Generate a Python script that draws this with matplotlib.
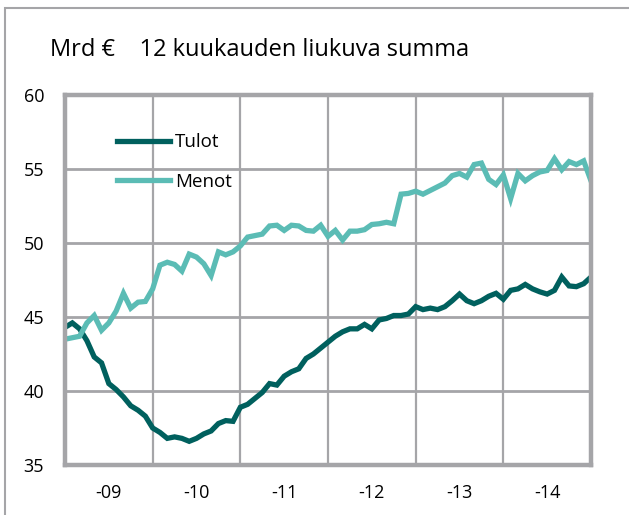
import numpy as np
import matplotlib
matplotlib.use("Agg")
import matplotlib.pyplot as plt
from matplotlib.patches import Rectangle

plt.rcParams['font.family'] = ['Open Sans', 'DejaVu Sans']

# kuukausittaiset arvot, joulukuu 2008 - joulukuu 2014 (mrd €)
tulot = [44.3, 44.6, 44.2, 43.4, 42.3, 41.9, 40.5, 40.1, 39.6, 39.0, 38.7, 38.3,
         37.5, 37.2, 36.8, 36.9, 36.8, 36.6, 36.8, 37.1, 37.3, 37.8, 38.0, 37.95,
         38.9, 39.1, 39.5, 39.9, 40.5, 40.4, 41.0, 41.3, 41.5, 42.2, 42.5, 42.9,
         43.3, 43.7, 44.0, 44.2, 44.2, 44.5, 44.2, 44.8, 44.9, 45.1, 45.1, 45.2,
         45.7, 45.5, 45.6, 45.5, 45.7, 46.1, 46.55, 46.1, 45.9, 46.1, 46.4, 46.6,
         46.2, 46.8, 46.9, 47.2, 46.9, 46.7, 46.55, 46.8, 47.7, 47.1, 47.05, 47.25,
         47.7]
menot = [43.5, 43.6, 43.7, 44.6, 45.1, 44.1, 44.6, 45.4, 46.6, 45.6, 46.0, 46.05,
         46.9, 48.5, 48.7, 48.55, 48.1, 49.25, 49.05, 48.6, 47.8, 49.4, 49.2, 49.4,
         49.8, 50.4, 50.5, 50.6, 51.15, 51.2, 50.85, 51.2, 51.15, 50.85, 50.8, 51.2,
         50.45, 50.85, 50.2, 50.8, 50.8, 50.9, 51.25, 51.3, 51.4, 51.3, 53.3, 53.35,
         53.5, 53.3, 53.55, 53.8, 54.05, 54.55, 54.7, 54.45, 55.3, 55.4, 54.3, 53.95,
         54.6, 53.0, 54.7, 54.2, 54.55, 54.8, 54.9, 55.7, 54.95, 55.5, 55.3, 55.55,
         54.2]
vuodet = ['-09', '-10', '-11', '-12', '-13', '-14']
yticks = [35, 40, 45, 50, 55, 60]

harmaa = '#a5a5a8'
tumma = '#00605e'
vaalea = '#5bbcb5'

x = np.arange(len(tulot)) / 12.0

fig = plt.figure(figsize=(6.29, 5.15), dpi=100)
ax = fig.add_axes([65/629, 50/515, 526/629, 370/515])

ax.plot(x, tulot, color=tumma, lw=3.8, label='Tulot', solid_joinstyle='miter', zorder=3)
ax.plot(x, menot, color=vaalea, lw=3.8, label='Menot', solid_joinstyle='miter', zorder=3)

ax.set_xlim(0, 6)
ax.set_ylim(35, 60)
ax.set_yticks(yticks)
ax.set_xticks(np.arange(1, 6))
ax.set_xticklabels([])
ax.set_xticks(np.arange(6) + 0.5, minor=True)
ax.set_xticklabels(vuodet, minor=True)
ax.tick_params(axis='both', which='both', length=0, labelsize=13, pad=14)
ax.tick_params(axis='y', pad=15)
ax.grid(True, axis='y', color=harmaa, lw=2.0)
ax.grid(True, axis='x', which='major', color=harmaa, lw=1.6)
for s in ax.spines.values():
    s.set_color(harmaa)
    s.set_linewidth(3.2)
    s.set_zorder(4)

ax.legend(loc='upper left', bbox_to_anchor=(0.099, 0.897), frameon=False,
          fontsize=13.5, handlelength=2.8, handletextpad=0.3, labelspacing=1.15,
          borderpad=0, borderaxespad=0)

fig.text(50/629, 1 - 50/515, 'Mrd €    12 kuukauden liukuva summa',
         fontsize=17, va='center', ha='left')

# kehys koko kuvan ympärillä
fig.patches.append(Rectangle((5/629, -0.1), 1.2, 1.1 - 8/515, transform=fig.transFigure,
                             fill=False, edgecolor=harmaa, lw=1.5))

fig.savefig('out.png', dpi=100)
